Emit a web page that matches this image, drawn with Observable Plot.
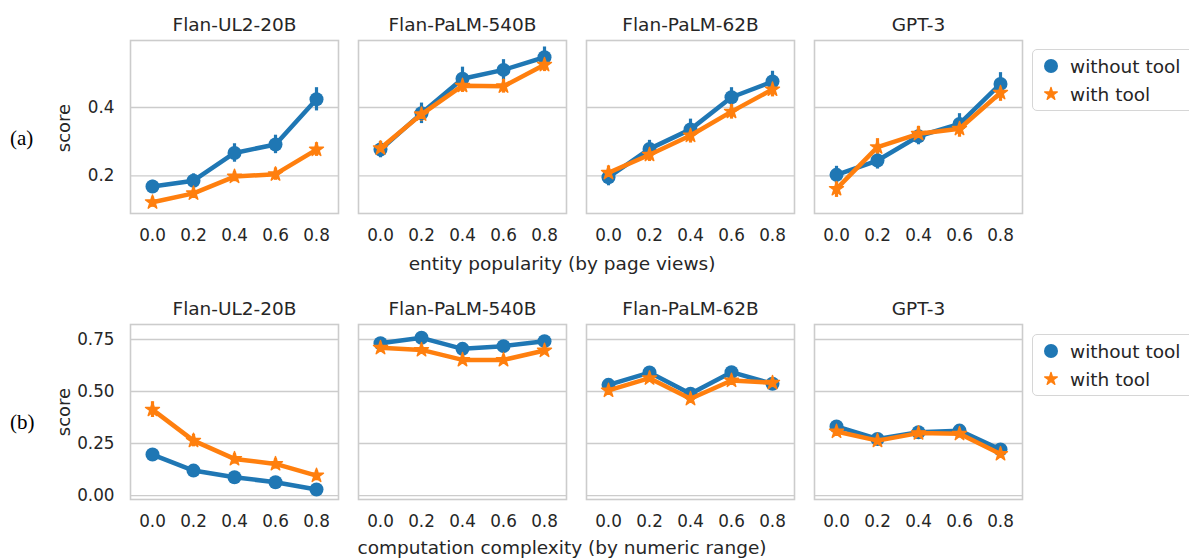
<!DOCTYPE html>
<html><head><meta charset="utf-8">
<script src="https://cdn.jsdelivr.net/npm/d3@7"></script>
<script src="https://cdn.jsdelivr.net/npm/@observablehq/plot@0.6"></script>
<style>
body{margin:0;background:#fff;font-family:"DejaVu Sans",sans-serif;color:#262626}
#wrap{position:relative;width:1189px;height:558px;overflow:hidden;background:#fff}
.row{position:absolute;left:0}
.tag{position:absolute;font-family:"Liberation Serif",serif;font-size:21px;color:#000;line-height:1}
.xlab{position:absolute;font-size:18.5px;line-height:1;transform:translateX(-50%);white-space:nowrap;color:#262626}
.ylab{position:absolute;font-size:18px;line-height:1;white-space:nowrap;color:#262626;transform:translate(-50%,-50%) rotate(-90deg)}
.legend{position:absolute;left:1032px;width:200px;height:60px;border:1.3px solid #d6d6d6;border-radius:5px;background:#fff;font-size:18.5px;color:#262626}
.legend .item{position:absolute;left:0;display:flex;align-items:center;height:24px}
.legend svg{margin-left:9px;margin-right:10px}
</style>
</head><body>
<div id="wrap"></div>
<script>
const models = ["Flan-UL2-20B", "Flan-PaLM-540B", "Flan-PaLM-62B", "GPT-3"];
const bins = [0.0, 0.2, 0.4, 0.6, 0.8];
const seriesNames = ["without tool", "with tool"];
const colors = ["#1f77b4", "#ff7f0e"];

// (a) entity popularity (by page views)
const popWithout = [
  [0.169, 0.186, 0.267, 0.292, 0.424],
  [0.277, 0.383, 0.484, 0.510, 0.547],
  [0.196, 0.279, 0.336, 0.430, 0.476],
  [0.203, 0.245, 0.316, 0.352, 0.469]
];
const popWith = [
  [0.123, 0.149, 0.198, 0.205, 0.277],
  [0.281, 0.380, 0.464, 0.462, 0.525],
  [0.209, 0.262, 0.318, 0.388, 0.453],
  [0.162, 0.284, 0.323, 0.338, 0.443]
];
const popWithoutErr = [
  [0.018, 0.020, 0.027, 0.027, 0.034],
  [0.024, 0.030, 0.034, 0.030, 0.030],
  [0.025, 0.025, 0.030, 0.028, 0.030],
  [0.025, 0.025, 0.025, 0.030, 0.033]
];
const popWithErr = [
  [0.015, 0.015, 0.015, 0.018, 0.020],
  [0.020, 0.020, 0.020, 0.020, 0.020],
  [0.020, 0.020, 0.022, 0.022, 0.022],
  [0.025, 0.025, 0.022, 0.025, 0.025]
];
const popTicks = [0.2, 0.4];

// (b) computation complexity (by numeric range)
const cmpWithout = [
  [0.197, 0.120, 0.088, 0.064, 0.029],
  [0.732, 0.758, 0.705, 0.718, 0.742],
  [0.532, 0.591, 0.489, 0.593, 0.537],
  [0.332, 0.272, 0.304, 0.312, 0.221]
];
const cmpWith = [
  [0.413, 0.264, 0.176, 0.152, 0.096],
  [0.710, 0.700, 0.652, 0.652, 0.697],
  [0.505, 0.564, 0.465, 0.553, 0.542],
  [0.308, 0.264, 0.300, 0.297, 0.200]
];
const cmpWithoutErr = [
  [0.010, 0.010, 0.010, 0.010, 0.010],
  [0.012, 0.012, 0.012, 0.012, 0.012],
  [0.015, 0.015, 0.015, 0.015, 0.015],
  [0.015, 0.015, 0.015, 0.015, 0.015]
];
const cmpWithErr = [
  [0.038, 0.030, 0.025, 0.025, 0.025],
  [0.015, 0.015, 0.018, 0.018, 0.015],
  [0.020, 0.020, 0.020, 0.020, 0.020],
  [0.015, 0.015, 0.015, 0.015, 0.015]
];
const cmpTicks = [0.0, 0.25, 0.5, 0.75];

function rows(vals, errs, sIdx) {
  const out = [];
  models.forEach((m, i) => bins.forEach((b, j) => {
    out.push({model: m, x: b, series: seriesNames[sIdx], y: vals[i][j], e: errs[i][j]});
  }));
  return out;
}

function makeRow({without, withT, withoutErr, withErr, domain, ticks, fmt, height, frameBottom}) {
  const d0 = rows(without, withoutErr, 0);
  const d1 = rows(withT, withErr, 1);
  const seriesMarks = [];
  [[d0, 0], [d1, 1]].forEach(([d, k]) => {
    seriesMarks.push(
      Plot.ruleX(d, {fx: "model", x: "x", y1: r => r.y - r.e, y2: r => r.y + r.e, stroke: colors[k], strokeWidth: 3.2})
    );
  });
  [[d0, 0], [d1, 1]].forEach(([d, k]) => {
    seriesMarks.push(
      Plot.line(d, {fx: "model", x: "x", y: "y", stroke: colors[k], strokeWidth: 4.5}),
      Plot.dot(d, {fx: "model", x: "x", y: "y", fill: colors[k],
                   stroke: k === 0 ? null : colors[k], strokeWidth: k === 0 ? 0 : 1.4,
                   strokeLinejoin: "round",
                   symbol: k === 0 ? "circle" : "star", r: k === 0 ? 7 : 4.4})
    );
  });
  return Plot.plot({
    width: 1189,
    height,
    marginTop: 40,
    marginLeft: 129,
    marginRight: 165.5,
    marginBottom: height - frameBottom,
    style: {fontFamily: "DejaVu Sans", fontSize: "16.5px", color: "#262626", background: "white", overflow: "visible"},
    fx: {domain: models, paddingInner: 0.088, paddingOuter: 0, label: null},
    x: {type: "point", domain: bins, padding: 0.5},
    y: {domain, label: null},
    marks: [
      Plot.gridY(ticks, {stroke: "#cccccc", strokeOpacity: 1, strokeWidth: 1.3}),
      Plot.frame({stroke: "#cccccc", strokeWidth: 1.6}),
      Plot.axisX({tickSize: 0, tickPadding: 16, label: null, tickFormat: d3.format(".1f"), fontSize: 16.8}),
      Plot.axisY(ticks, {tickSize: 0, tickPadding: 16, tickFormat: fmt, label: null, fontSize: 16.8}),
      Plot.axisFx({anchor: "top", tickSize: 0, tickPadding: 10, label: null, fontSize: 18.5}),
      ...seriesMarks
    ]
  });
}

const wrap = document.getElementById("wrap");

const rowA = makeRow({without: popWithout, withT: popWith, withoutErr: popWithoutErr, withErr: popWithErr,
  domain: [0.09, 0.596], ticks: popTicks, fmt: d3.format(".1f"), height: 280, frameBottom: 213});
rowA.classList.add("row"); rowA.style.top = "0px";
wrap.appendChild(rowA);

const rowB = makeRow({without: cmpWithout, withT: cmpWith, withoutErr: cmpWithoutErr, withErr: cmpWithErr,
  domain: [-0.019, 0.822], ticks: cmpTicks, fmt: d3.format(".2f"), height: 274, frameBottom: 215});
rowB.classList.add("row"); rowB.style.top = "284px";
wrap.appendChild(rowB);

function addDiv(cls, text, left, top) {
  const el = document.createElement("div");
  el.className = cls; el.textContent = text;
  el.style.left = left + "px"; el.style.top = top + "px";
  wrap.appendChild(el);
  return el;
}
addDiv("tag", "(a)", 10, 128);
addDiv("tag", "(b)", 10, 412);
addDiv("ylab", "score", 64, 128);
addDiv("ylab", "score", 64, 412);
addDiv("xlab", "entity popularity (by page views)", 562, 255);
addDiv("xlab", "computation complexity (by numeric range)", 562, 539);

function markerSvg(k) {
  const ns = "http://www.w3.org/2000/svg";
  const svg = document.createElementNS(ns, "svg");
  svg.setAttribute("width", 18); svg.setAttribute("height", 18);
  const p = document.createElementNS(ns, "path");
  const sym = k === 0 ? d3.symbol(d3.symbolCircle, Math.PI * 7 * 7) : d3.symbol(d3.symbolStar, Math.PI * 4 * 4);
  p.setAttribute("d", sym());
  p.setAttribute("transform", "translate(9,9)");
  p.setAttribute("fill", colors[k]);
  if (k === 1) { p.setAttribute("stroke", colors[k]); p.setAttribute("stroke-width", 1.2); p.setAttribute("stroke-linejoin", "round"); }
  svg.appendChild(p);
  return svg;
}
function addLegend(top) {
  const box = document.createElement("div");
  box.className = "legend"; box.style.top = top + "px";
  seriesNames.forEach((name, k) => {
    const it = document.createElement("div");
    it.className = "item";
    it.style.top = (4 + k * 28) + "px";
    it.appendChild(markerSvg(k));
    const t = document.createElement("span"); t.textContent = name;
    it.appendChild(t);
    box.appendChild(it);
  });
  wrap.appendChild(box);
}
addLegend(49);
addLegend(334);
</script>
</body></html>
